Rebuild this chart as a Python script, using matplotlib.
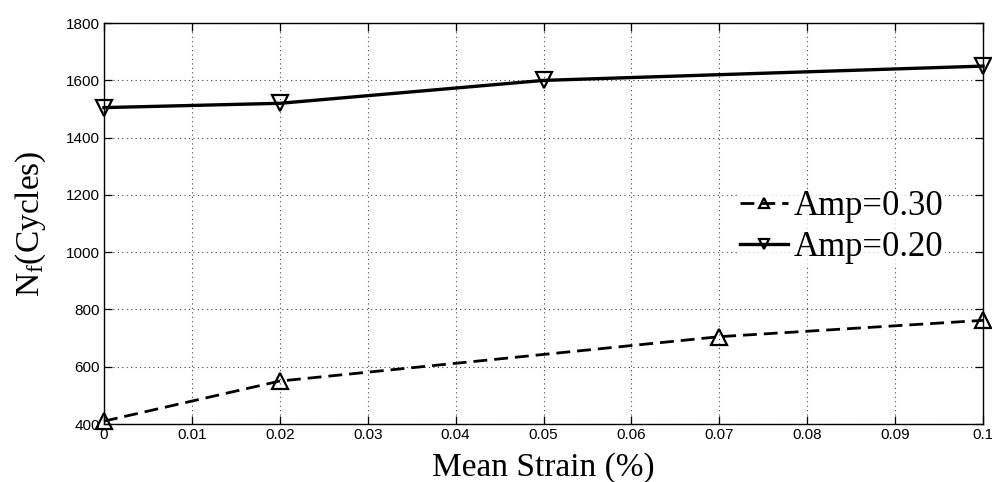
import matplotlib.pyplot as plt
from matplotlib import rcParams

rcParams['font.family'] = 'Liberation Sans'
rcParams['mathtext.fontset'] = 'custom'
rcParams['mathtext.rm'] = 'Liberation Serif'
rcParams['mathtext.it'] = 'Liberation Serif'

# fatigue life vs mean strain, two strain amplitudes
strain_030 = [0, 0.02, 0.07, 0.1]
cycles_030 = [410, 550, 705, 762]
strain_020 = [0, 0.02, 0.05, 0.1]
cycles_020 = [1505, 1520, 1600, 1650]

x_ticks = [0, 0.01, 0.02, 0.03, 0.04, 0.05, 0.06, 0.07, 0.08, 0.09, 0.1]
x_tick_labels = ['0', '0.01', '0.02', '0.03', '0.04', '0.05', '0.06', '0.07', '0.08', '0.09', '0.1']
y_ticks = [400, 600, 800, 1000, 1200, 1400, 1600, 1800]

fig = plt.figure(figsize=(9.92, 4.82), dpi=100)
ax = fig.add_axes([0.1048, 0.1203, 0.8862, 0.8317])

ax.plot(strain_030, cycles_030, color='k', linestyle=(0, (5, 2.5)), linewidth=2.0,
        marker='^', markersize=11, markerfacecolor='none', markeredgewidth=1.6,
        label='Amp=0.30', clip_on=False, zorder=3)
ax.plot(strain_020, cycles_020, color='k', linestyle='-', linewidth=2.4,
        marker='v', markersize=11, markerfacecolor='none', markeredgewidth=1.6,
        label='Amp=0.20', clip_on=False, zorder=3)

ax.set_xlim(0, 0.1)
ax.set_ylim(400, 1800)
ax.set_xticks(x_ticks)
ax.set_xticklabels(x_tick_labels)
ax.set_yticks(y_ticks)
ax.tick_params(direction='in', top=True, right=True, labelsize=11, length=6, width=0.9, pad=3)
for s in ax.spines.values():
    s.set_linewidth(1.0)
ax.grid(True, linestyle=(0, (1, 3)), color='#444444', linewidth=0.8)

ax.set_xlabel('Mean Strain (%)', fontsize=24, family='Liberation Serif', labelpad=7)
ax.set_ylabel(r'$\mathregular{N_f}$(Cycles)', fontsize=24, family='Liberation Serif', labelpad=12.5)

leg = ax.legend(loc='center left', bbox_to_anchor=(0.721, 0.491), frameon=True,
                prop={'family': 'Liberation Serif', 'size': 25},
                handlelength=1.4, handletextpad=0.15, labelspacing=0.22,
                borderpad=0.05, borderaxespad=0, markerscale=0.65)
leg.get_frame().set_facecolor('white')
leg.get_frame().set_edgecolor('none')

fig.savefig('out.png', dpi=100)
